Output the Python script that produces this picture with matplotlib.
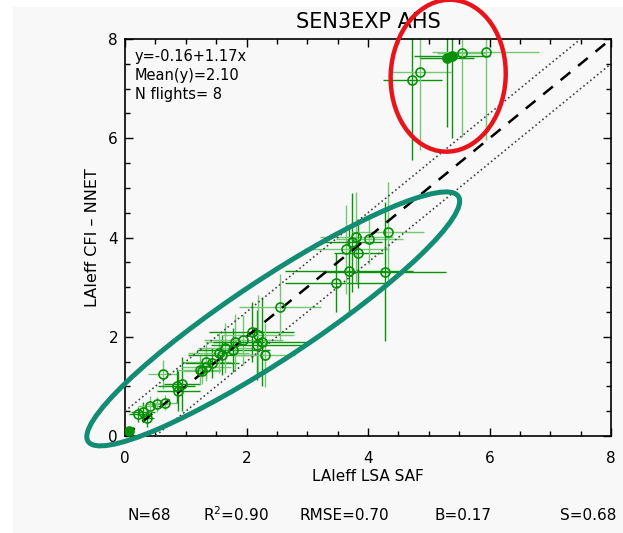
import numpy as np
import matplotlib
matplotlib.use("Agg")
import matplotlib.pyplot as plt
from matplotlib.patches import Ellipse, Rectangle
from matplotlib.transforms import IdentityTransform

# LAIeff LSA SAF (x) vs LAIeff CFI - NNET (y)
x_vals = [4.73, 4.86, 5.38, 5.30, 5.54, 5.94,
          3.48, 3.69, 3.64, 3.73, 3.81, 3.84, 4.02, 4.33, 4.28,
          0.07, 0.22, 0.30, 0.36, 0.41, 0.52, 0.66, 0.63, 0.85, 0.88, 0.94,
          1.26, 1.23, 1.34, 1.34, 1.43, 1.54, 1.59, 1.65, 1.78, 1.81, 1.95,
          2.09, 2.17, 2.19, 2.25, 2.30, 2.55]
y_vals = [7.18, 7.33, 7.65, 7.62, 7.72, 7.73,
          3.09, 3.33, 3.76, 3.90, 4.01, 3.68, 3.97, 4.12, 3.31,
          0.11, 0.44, 0.49, 0.36, 0.61, 0.64, 0.67, 1.24, 1.01, 0.91, 1.05,
          1.30, 1.33, 1.40, 1.50, 1.47, 1.67, 1.63, 1.77, 1.73, 1.90, 1.94,
          2.10, 1.83, 2.04, 1.90, 1.63, 2.59]
x_err = [0.49, 0.50, 0.62, 0.45, 0.40, 0.88,
         0.85, 1.05, 0.70, 0.50, 0.60, 0.40, 0.55, 0.60, 1.00,
         0.06, 0.15, 0.20, 0.12, 0.20, 0.18, 0.20, 0.25, 0.30, 0.35, 0.30,
         0.30, 0.35, 0.40, 0.40, 0.45, 0.50, 0.55, 0.45, 0.60, 0.50, 0.65,
         0.70, 0.75, 0.60, 0.80, 0.50, 0.68]
y_err = [1.62, 1.56, 1.64, 1.40, 1.69, 1.76,
         0.60, 0.90, 0.90, 1.00, 0.90, 0.70, 0.50, 1.00, 1.40,
         0.06, 0.15, 0.20, 0.18, 0.20, 0.15, 0.15, 0.30, 0.35, 0.40, 0.55,
         0.25, 0.30, 0.30, 0.35, 0.30, 0.40, 0.40, 0.50, 0.45, 0.55, 0.50,
         0.60, 0.70, 0.80, 0.90, 0.65, 0.67]
filled = [False, False, True, True, False, False,
          False, False, False, False, False, False, False, False, False,
          True, False, False, False, False, False, False, False, False, False, False,
          False, False, False, False, False, False, False, False, False, False, False,
          False, False, False, False, False, False]
light = [False, True, False, False, True, True,
         False, False, True, False, True, False, True, True, False,
         False, False, False, False, True, True, True, True, False, False, False,
         True, True, True, True, False, True, False, True, False, True, True,
         False, False, True, False, True, True]

fit_text = ["y=-0.16+1.17x", "Mean(y)=2.10", "N flights= 8"]
stats = ["N=68", "R$^{2}$=0.90", "RMSE=0.70", "B=0.17", "S=0.68"]
stats_x = [149, 236, 344, 463, 588]

W, H = 623, 533
fig = plt.figure(figsize=(W / 100, H / 100), dpi=100, facecolor="#f8f8f8")
fig.patches.append(Rectangle((0, H - 7), W, 7, transform=IdentityTransform(),
                             facecolor="white", edgecolor="none", zorder=-1))
fig.patches.append(Rectangle((0, 0), 13, H, transform=IdentityTransform(),
                             facecolor="white", edgecolor="none", zorder=-1))

ax = fig.add_axes([125 / W, (H - 436) / H, 486 / W, 397 / H])
ax.set_facecolor("none")

# 1:1 line and +/-0.5 envelope
ref = np.array([0, 8])
ax.plot(ref, ref, color="black", lw=1.8, dashes=(5, 4), zorder=3)
ax.plot(ref, ref + 0.5, color="#444444", lw=1.2, ls=":", zorder=3)
ax.plot(ref, ref - 0.5, color="#444444", lw=1.2, ls=":", zorder=3)

for xv, yv, xe, ye, f, lt in zip(x_vals, y_vals, x_err, y_err, filled, light):
    ec = "#74c874" if lt else "#0a930a"
    ax.errorbar(xv, yv, xerr=xe, yerr=ye, fmt="none", ecolor=ec,
                elinewidth=1.0, capsize=0, zorder=2)
    ax.plot(xv, yv, "o", ms=6.5, mew=1.2, mec="#078f07",
            mfc="#078f07" if f else "none", zorder=4)

ax.set_xlim(0, 8)
ax.set_ylim(0, 8)
ax.set_xticks([0, 2, 4, 6, 8])
ax.set_yticks([0, 2, 4, 6, 8])
ax.set_xticks(np.arange(0, 8.01, 0.5), minor=True)
ax.set_yticks(np.arange(0, 8.01, 0.5), minor=True)
ax.tick_params(which="both", direction="in", top=True, right=True,
               labelsize=11, width=1)
ax.tick_params(which="major", length=6)
ax.tick_params(which="minor", length=3.5)
ax.tick_params(axis="x", pad=11)
ax.tick_params(axis="y", pad=5)
for sp in ax.spines.values():
    sp.set_linewidth(1.2)

ax.set_title("SEN3EXP AHS", fontsize=15, pad=8)
ax.set_xlabel("LAIeff LSA SAF", fontsize=11, labelpad=2)
ax.set_ylabel("LAIeff CFI \u2013 NNET", fontsize=11.5, labelpad=6)

for i, t in enumerate(fit_text):
    ax.text(0.02, 0.975 - i * 0.048, t, transform=ax.transAxes,
            fontsize=10.5, va="top", ha="left")

for t, sx in zip(stats, stats_x):
    fig.text(sx / W, (H - 515) / H, t, fontsize=11, ha="center", va="center")

# highlight ellipses (centre in data units, size in pixels)
fig.canvas.draw()
red_c = ax.transData.transform((5.32, 7.26))
teal_c = ax.transData.transform((2.44, 2.36))
fig.add_artist(Ellipse(red_c, 115, 152, angle=-3, transform=IdentityTransform(),
                       fill=False, edgecolor="#e8141c", lw=3.2, clip_on=False))
fig.add_artist(Ellipse(teal_c, 444, 80, angle=33.5, transform=IdentityTransform(),
                       fill=False, edgecolor="#138c74", lw=3.6, clip_on=False))

fig.savefig("out.png", dpi=100, facecolor=fig.get_facecolor())
